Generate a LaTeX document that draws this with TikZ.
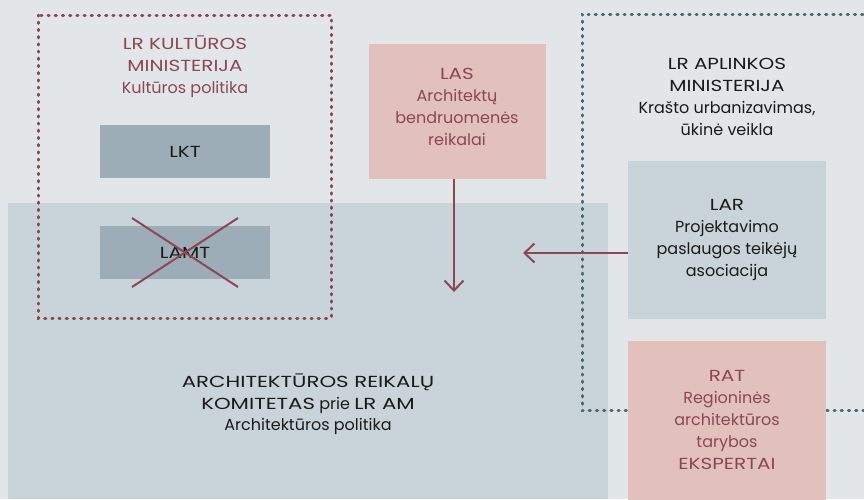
\documentclass[tikz,border=0pt]{standalone}
\usepackage{fontspec}
\setmainfont{Poppins}
\newfontfamily\capfont{Poppins}[FakeStretch=1.25]
\newfontfamily\comcapfont{Poppins}[FakeStretch=1.33]
\usetikzlibrary{arrows.meta}
\definecolor{bgc}{HTML}{E2E6E9}
\definecolor{comc}{HTML}{C9D4DA}
\definecolor{darkc}{HTML}{9DADB7}
\definecolor{pinkc}{HTML}{E2C1BD}
\definecolor{maroon}{HTML}{8B4753}
\definecolor{slate}{HTML}{4F6773}
\definecolor{ink}{HTML}{1A1A1A}
\newcommand{\CAPS}[1]{{\capfont #1}}
\newcommand{\COMCAPS}[1]{{\comcapfont #1}}
\tikzset{
  box/.style={draw=none, inner sep=0pt, minimum width=#1},
  txt/.style={align=center, inner sep=0pt, font=\fontsize{16}{22}\selectfont},
  reddots/.style={draw=maroon, line width=3pt, line cap=round, dash pattern=on 1.2pt off 6pt},
  bluedots/.style={draw=slate, line width=3pt, line cap=round, dash pattern=on 1.2pt off 6pt},
  conn/.style={draw=maroon, line width=2pt, -{Straight Barb[length=10pt,width=19pt,line width=2pt]}},
  cross/.style={draw=maroon, line width=2pt}
}
\begin{document}
\begin{tikzpicture}[x=1pt,y=-1pt]
\useasboundingbox (0,0) rectangle (864,499);
\fill[bgc] (0,0) rectangle (864,499);
% committee area
\fill[comc] (8,203) rectangle (608,499);
% ministry frames
\draw[reddots] (38,15) rectangle (331,318);
\draw[bluedots] (870,14) -- (582,14) -- (582,410) -- (870,410);
% boxes
\node[box=170pt, fill=darkc, minimum height=53pt] (lkt) at (185,151.5) {};
\node[box=170pt, fill=darkc, minimum height=53pt] (lamt) at (185,252.5) {};
\node[box=177pt, fill=pinkc, minimum height=135pt] (las) at (457.5,111.5) {};
\node[box=198pt, fill=comc, minimum height=158pt] (lar) at (727,240) {};
\node[box=198pt, fill=pinkc, minimum height=160pt] (rat) at (727,421) {};
% texts
\node[txt, text=maroon] (kmtxt) at (185,67) {\CAPS{LR KULTŪROS}\\\CAPS{MINISTERIJA}\\Kultūros politika};
\node[txt, text=ink] (lkttxt) at (lkt) {\CAPS{LKT}};
\node[txt, text=ink] (lamttxt) at (lamt) {\CAPS{LAMT}};
\node[txt, text=maroon] (lastxt) at (457,107) {\CAPS{LAS}\\Architektų\\bendruomenės\\reikalai};
\node[txt, text=ink] (amtxt) at (727,97) {\CAPS{LR APLINKOS}\\\CAPS{MINISTERIJA}\\Krašto urbanizavimas,\\ūkinė veikla};
\node[txt, text=ink] (lartxt) at (727,240) {\CAPS{LAR}\\Projektavimo\\paslaugos teikėjų\\asociacija};
\node[txt, text=maroon] (rattxt) at (727,420) {\CAPS{RAT}\\Regioninės\\architektūros\\tarybos\\\CAPS{EKSPERTAI}};
\node[txt, text=ink, font=\fontsize{16}{21.5}\selectfont] (comtxt) at (308,404.5) {\COMCAPS{ARCHITEKTŪROS REIKALŲ}\\\COMCAPS{KOMITETAS} prie \COMCAPS{LR AM}\\Architektūros politika};
% cross over LAMT
\draw[cross] (132,218) -- (238,287);
\draw[cross] (132,287) -- (238,218);
% connectors
\coordinate (lasend) at (454,292);
\coordinate (larend) at (523,253);
\draw[conn] (las.south -| lasend) -- (lasend);
\draw[conn] (lar.west |- larend) -- (larend);
\end{tikzpicture}
\end{document}
